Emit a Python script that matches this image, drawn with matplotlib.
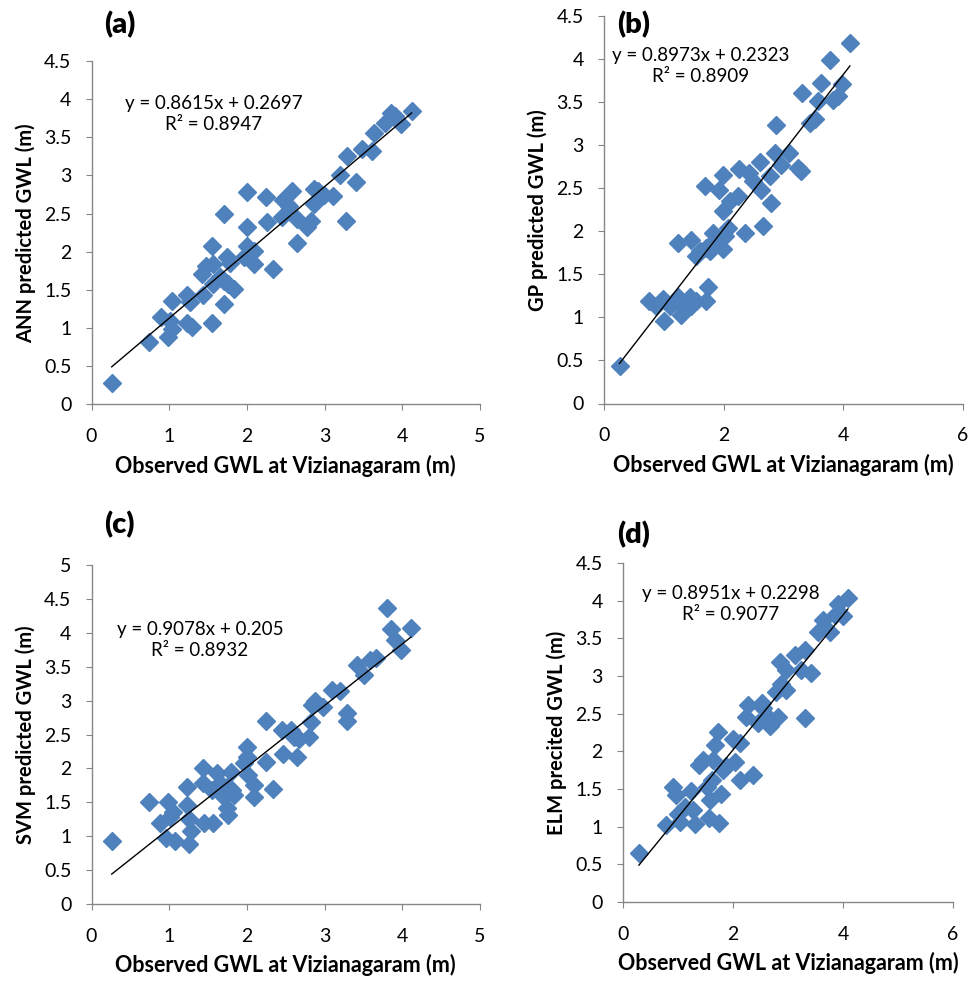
import matplotlib.pyplot as plt

plt.rcParams['font.family'] = ['Lato', 'DejaVu Sans']

# DATA
# -----------------------------------------------

ann_obs = [0.26, 0.74, 0.99, 0.89, 1.01, 1.03, 1.03, 1.23, 1.27, 1.23, 1.29, 1.55, 1.70, 1.44,
           1.42, 1.48, 1.57, 1.55, 1.57, 1.66, 1.74, 1.70, 1.76, 1.84, 1.78, 1.70, 1.96, 2.00,
           2.00, 2.00, 2.09, 2.09, 2.25, 2.26, 2.34, 2.45, 2.47, 2.54, 2.58, 2.65, 2.65, 2.77,
           2.82, 2.86, 2.86, 2.92, 2.99, 3.11, 3.20, 3.28, 3.29, 3.41, 3.48, 3.61, 3.63, 3.78,
           3.85, 3.91, 3.98, 4.12]
ann_pred = [0.28, 0.82, 0.88, 1.15, 1.10, 0.99, 1.35, 1.44, 1.34, 1.07, 1.02, 1.07, 1.32, 1.44,
            1.71, 1.82, 1.84, 2.08, 1.58, 1.67, 1.93, 1.62, 1.58, 1.51, 1.86, 2.50, 1.93, 2.08,
            2.33, 2.78, 2.01, 1.84, 2.72, 2.39, 1.78, 2.46, 2.68, 2.60, 2.80, 2.43, 2.11, 2.33,
            2.41, 2.63, 2.82, 2.80, 2.75, 2.73, 3.01, 2.40, 3.25, 2.91, 3.35, 3.32, 3.56, 3.69,
            3.82, 3.78, 3.67, 3.84]

gp_obs = [0.26, 0.75, 0.87, 0.99, 1.00, 1.10, 1.24, 1.24, 1.29, 1.31, 1.43, 1.46, 1.54, 1.46,
          1.54, 1.60, 1.68, 1.70, 1.74, 1.71, 1.77, 1.82, 1.82, 1.93, 1.99, 1.99, 1.99, 2.02,
          2.07, 2.10, 2.24, 2.26, 2.35, 2.43, 2.49, 2.60, 2.63, 2.65, 2.77, 2.79, 2.85, 2.87,
          2.96, 3.10, 3.24, 3.30, 3.31, 3.44, 3.52, 3.58, 3.63, 3.77, 3.83, 3.91, 3.97, 4.11]
gp_pred = [0.44, 1.19, 1.13, 1.21, 0.96, 1.13, 1.24, 1.86, 1.03, 1.13, 1.24, 1.13, 1.19, 1.90,
           1.71, 1.77, 2.52, 1.19, 1.35, 1.81, 1.77, 1.98, 1.88, 2.48, 2.65, 2.23, 1.79, 1.94,
           2.04, 2.35, 2.41, 2.72, 1.98, 2.68, 2.58, 2.81, 2.48, 2.06, 2.64, 2.33, 2.91, 3.23,
           2.77, 2.91, 2.74, 2.70, 3.60, 3.26, 3.30, 3.51, 3.72, 3.99, 3.53, 3.57, 3.71, 4.19]

svm_obs = [0.26, 0.74, 0.88, 0.96, 0.99, 1.05, 1.07, 1.01, 1.23, 1.23, 1.26, 1.28, 1.25, 1.44,
           1.44, 1.45, 1.56, 1.55, 1.62, 1.66, 1.70, 1.74, 1.76, 1.79, 1.81, 1.83, 1.74, 1.96,
           2.00, 2.00, 2.02, 2.09, 2.09, 2.25, 2.25, 2.34, 2.45, 2.47, 2.57, 2.60, 2.65, 2.67,
           2.80, 2.82, 2.84, 2.88, 2.98, 3.10, 3.20, 3.29, 3.29, 3.42, 3.51, 3.59, 3.66, 3.80,
           3.85, 3.91, 3.98, 4.11]
svm_pred = [0.93, 1.50, 1.19, 0.98, 1.51, 1.35, 0.93, 1.29, 1.73, 1.46, 1.25, 1.08, 0.89, 2.00,
            1.79, 1.20, 1.20, 1.68, 1.93, 1.78, 1.58, 1.41, 1.31, 1.95, 1.68, 1.61, 1.73, 2.08,
            2.32, 2.17, 1.90, 1.76, 1.58, 2.70, 2.09, 1.69, 2.57, 2.21, 2.57, 2.47, 2.17, 2.44,
            2.47, 2.69, 2.94, 2.99, 2.91, 3.16, 3.14, 2.82, 2.70, 3.53, 3.38, 3.60, 3.63, 4.37,
            4.06, 3.90, 3.75, 4.07]

elm_obs = [0.29, 0.78, 0.91, 0.97, 1.00, 1.03, 1.12, 1.24, 1.27, 1.30, 1.39, 1.45, 1.52, 1.56,
           1.58, 1.61, 1.64, 1.67, 1.73, 1.75, 1.79, 1.82, 1.88, 2.00, 2.03, 2.12, 2.12, 2.24,
           2.27, 2.36, 2.45, 2.52, 2.55, 2.64, 2.67, 2.82, 2.78, 2.85, 2.88, 2.96, 2.97, 3.12,
           3.24, 3.30, 3.30, 3.42, 3.55, 3.64, 3.76, 3.85, 3.91, 4.00, 4.09]
elm_pred = [0.65, 1.02, 1.53, 1.42, 1.17, 1.06, 1.26, 1.48, 1.22, 1.04, 1.82, 1.88, 1.53, 1.11,
            1.35, 1.62, 1.88, 2.08, 2.26, 1.05, 1.44, 1.75, 1.80, 2.17, 1.86, 2.11, 1.62, 2.46,
            2.62, 1.68, 2.37, 2.64, 2.57, 2.46, 2.33, 2.46, 2.79, 3.19, 2.90, 2.81, 3.08, 3.28,
            3.08, 3.35, 2.44, 3.04, 3.59, 3.75, 3.59, 3.81, 3.95, 3.80, 4.03]

panels = [
    ('(a)', ann_obs, ann_pred, 'ANN predicted GWL (m)', '0.8615', '0.2697', '0.8947', 5, 4.5),
    ('(b)', gp_obs, gp_pred, 'GP predicted GWL (m)', '0.8973', '0.2323', '0.8909', 6, 4.5),
    ('(c)', svm_obs, svm_pred, 'SVM predicted GWL (m)', '0.9078', '0.205', '0.8932', 5, 5),
    ('(d)', elm_obs, elm_pred, 'ELM precited GWL (m)', '0.8951', '0.2298', '0.9077', 6, 4.5),
]

# LAYOUT (pixels)
# -----------------------------------------------

W, H = 971, 983
BLUE = '#4F81BD'
GREY = '#868686'

# axes boxes: left, right, top, bottom
boxes = [(91.5, 480, 61, 404.5), (604, 963, 16, 403.5),
         (91.5, 480, 565, 904), (623, 953, 563, 902)]
# centre of the equation block
eq_pos = [(214, 114), (701, 66), (200, 640), (731, 604)]
# panel letter (left edge, centre y)
lab_pos = [(104, 25), (617, 25), (104, 525), (617, 535)]

fig = plt.figure(figsize=(W / 100, H / 100), dpi=100)

for (lab, xo, yp, ylab, m, c, r2, xmax, ymax), (l, r, t, b), (ex, ey), (lx, ly) in zip(
        panels, boxes, eq_pos, lab_pos):
    ax = fig.add_axes([l / W, 1 - b / H, (r - l) / W, (b - t) / H])
    ax.plot(xo, yp, linestyle='none', marker='D', markersize=9, color=BLUE)
    xs = [min(xo), max(xo)]
    ax.plot(xs, [float(m) * v + float(c) for v in xs], color='black', lw=1)

    ax.set_xlim(0, xmax)
    ax.set_ylim(0, ymax)
    ax.set_xticks(range(0, xmax + 1, 1 if xmax == 5 else 2))
    yt = [i * 0.5 for i in range(int(ymax / 0.5) + 1)]
    ax.set_yticks(yt)
    ax.set_yticklabels(['%g' % v for v in yt])
    for s in ['top', 'right']:
        ax.spines[s].set_visible(False)
    for s in ['left', 'bottom']:
        ax.spines[s].set_color(GREY)
        ax.spines[s].set_linewidth(1)
    ax.tick_params(direction='out', length=4, color=GREY, labelsize=14)
    ax.tick_params(axis='x', pad=13)
    ax.tick_params(axis='y', pad=10.5)
    ax.set_xlabel('Observed GWL at Vizianagaram (m)', fontsize=15.5, fontweight='bold', labelpad=7)
    ax.set_ylabel(ylab, fontsize=14.5, fontweight='bold', labelpad=6)

    fig.text(ex / W, 1 - ey / H, 'y = %sx + %s\nR² = %s' % (m, c, r2),
             ha='center', va='center', fontsize=13.5, linespacing=1.25)
    fig.text(lx / W, 1 - ly / H, lab, fontsize=21, fontweight='heavy', va='center')

fig.savefig('out.png', dpi=100)
